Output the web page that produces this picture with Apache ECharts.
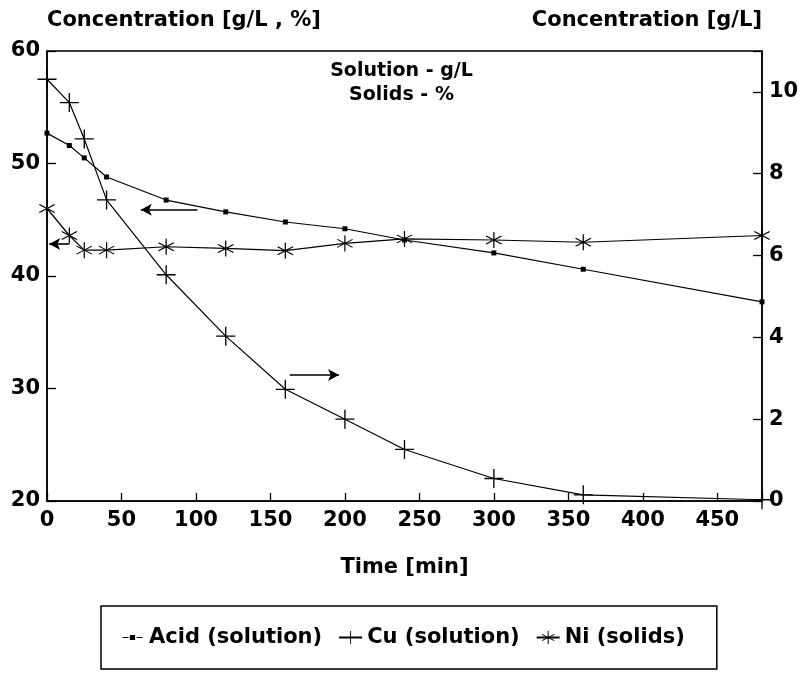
<!DOCTYPE html>
<html>
<head>
<meta charset="utf-8">
<script src="https://cdn.jsdelivr.net/npm/echarts@6/dist/echarts.min.js"></script>
<style>
html,body{margin:0;padding:0;background:#fff;}
#chart{width:803px;height:673px;}
</style>
</head>
<body>
<div id="chart"></div>
<script>
// ---- data ----
const timeMin = [0, 15, 25, 40, 80, 120, 160, 200, 240, 300, 360, 480];
const acidSolution = [52.7, 51.6, 50.5, 48.8, 46.75, 45.7, 44.8, 44.2, 43.2, 42.05, 40.6, 37.7];   // g/L, left axis
const cuSolution = [10.31, 9.74, 8.85, 7.36, 5.53, 4.03, 2.73, 2.0, 1.26, 0.55, 0.15, 0.03];      // g/L, right axis
const niSolids = [46.0, 43.6, 42.3, 42.3, 42.6, 42.45, 42.25, 42.9, 43.3, 43.2, 43.0, 43.6];       // %, left axis
const seriesNames = ['Acid (solution)', 'Cu (solution)', 'Ni (solids)'];
const leftAxisName = 'Concentration [g/L , %]';
const rightAxisName = 'Concentration [g/L]';
const xAxisName = 'Time [min]';
const noteLines = ['Solution - g/L', 'Solids - %'];
// annotation arrows (data space): [x1, y1, x2, y2]
const acidArrow = [101, 45.9, 63, 45.9];
const niArrow = [15, 42.85, 1.5, 42.85];
const cuArrow = [163, 3.08, 196, 3.08];

const FONT = 'DejaVu Sans';
const plusPath = 'path://M-0.7,-10H0.7V10H-0.7ZM-10,-0.7H10V0.7H-10Z';
const starPath = 'path://M-0.7,-10H0.7V10H-0.7Z' +
  'M-9.01,-4.39L-8.31,-5.61L9.01,4.39L8.31,5.61Z' +
  'M-8.31,5.61L-9.01,4.39L8.31,-5.61L9.01,-4.39Z';
const acidLegendIcon = 'path://M-11.5,-8M11.5,8' +
  'M-10,-0.6H-4V0.6H-10Z' +
  'M-2.6,-2.6H2.6V2.6H-2.6Z' +
  'M4,-0.6H10V0.6H4Z';

const zip = (xs, ys) => xs.map((x, i) => [x, ys[i]]);
const arrow = (a) => ({
  silent: true,
  symbol: ['none', 'arrow'],
  symbolSize: [9, 11],
  label: {show: false},
  lineStyle: {color: '#000', width: 1.6, type: 'solid'},
  data: [[{coord: [a[0], a[1]]}, {coord: [a[2], a[3]]}]]
});

const chart = echarts.init(document.getElementById('chart'));
const txt = {color: '#000', fontFamily: FONT, fontWeight: 'bold', fontSize: 21};

chart.setOption({
  animation: false,
  backgroundColor: '#fff',
  textStyle: {fontFamily: FONT, color: '#000'},
  grid: {left: 47, right: 41, top: 51, bottom: 172, show: true, borderColor: '#000', borderWidth: 1.5, containLabel: false},
  legend: {
    left: 101, top: 606,
    data: [
      {name: seriesNames[0], icon: acidLegendIcon},
      {name: seriesNames[1]},
      {name: seriesNames[2]}
    ],
    borderColor: '#000', borderWidth: 1.5,
    padding: [21, 32, 21, 20],
    itemGap: 16, itemWidth: 23, itemHeight: 16,
    textStyle: txt
  },
  graphic: [
    {type: 'text', left: 'center', top: 62, style: {text: noteLines[0], fill: '#000', font: 'bold 19px "DejaVu Sans"'}},
    {type: 'text', left: 'center', top: 86, style: {text: noteLines[1], fill: '#000', font: 'bold 19px "DejaVu Sans"'}}
  ],
  xAxis: {
    type: 'value', min: 0, max: 480, interval: 50,
    name: xAxisName, nameLocation: 'middle', nameGap: 56,
    nameTextStyle: txt,
    axisLine: {lineStyle: {color: '#000', width: 1.5}},
    axisTick: {inside: true, length: 8, lineStyle: {color: '#000', width: 1.3}},
    axisLabel: Object.assign({margin: 9, formatter: v => (v % 50 === 0 ? String(v) : '')}, txt),
    splitLine: {show: false}
  },
  yAxis: [
    {
      type: 'value', min: 20, max: 60, interval: 10, position: 'left',
      name: leftAxisName, nameLocation: 'end', nameGap: 20,
      nameTextStyle: Object.assign({align: 'left'}, txt),
      axisLine: {show: true, lineStyle: {color: '#000', width: 1.5}},
      axisTick: {show: true, inside: true, length: 9, lineStyle: {color: '#000', width: 1.3}},
      axisLabel: Object.assign({margin: 7}, txt),
      splitLine: {show: false}
    },
    {
      type: 'value', min: 0, max: 11, interval: 2, position: 'right',
      name: rightAxisName, nameLocation: 'end', nameGap: 20,
      nameTextStyle: Object.assign({align: 'right'}, txt),
      axisLine: {show: true, lineStyle: {color: '#000', width: 1.5}},
      axisTick: {show: true, inside: true, length: 9, lineStyle: {color: '#000', width: 1.3}},
      axisLabel: Object.assign({margin: 7, formatter: v => (v % 2 === 0 ? String(v) : '')}, txt),
      splitLine: {show: false}
    }
  ],
  series: [
    {
      name: seriesNames[0], type: 'line', yAxisIndex: 0,
      data: zip(timeMin, acidSolution),
      symbol: 'rect', symbolSize: 5,
      lineStyle: {color: '#000', width: 1.2},
      itemStyle: {color: '#000'},
      markLine: arrow(acidArrow)
    },
    {
      name: seriesNames[1], type: 'line', yAxisIndex: 1,
      data: zip(timeMin, cuSolution),
      symbol: plusPath, symbolSize: 19,
      lineStyle: {color: '#000', width: 1.2},
      itemStyle: {color: '#000'},
      markLine: arrow(cuArrow)
    },
    {
      name: seriesNames[2], type: 'line', yAxisIndex: 0,
      data: zip(timeMin, niSolids),
      symbol: starPath, symbolSize: 16,
      lineStyle: {color: '#000', width: 1.2},
      itemStyle: {color: '#000'},
      markLine: arrow(niArrow)
    }
  ]
});
</script>
</body>
</html>
